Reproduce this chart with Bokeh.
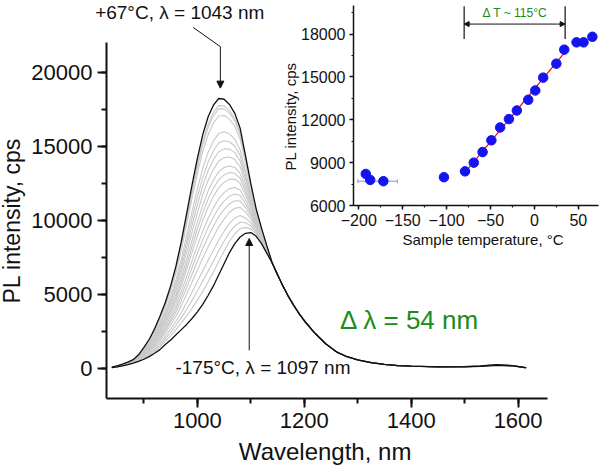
import numpy as np
from bokeh.plotting import figure
from bokeh.models import (Range1d, SingleIntervalTicker, Label, Arrow, NormalHead,
                          Whisker, ColumnDataSource, TeeHead, Title)
from bokeh.embed import file_html
from bokeh.resources import INLINE

FONT = "Liberation Sans"

# ---------------- main panel data ----------------
wavelength_nm = [840, 850, 860, 870, 880, 890, 900, 910, 920, 930, 940, 950, 960, 970, 980, 990,
                 1000, 1010, 1020, 1030, 1040, 1050, 1060, 1070, 1080, 1090, 1100, 1110, 1120,
                 1130, 1140, 1150, 1160, 1170, 1180, 1190, 1200, 1220, 1240, 1260, 1280, 1300,
                 1325, 1350, 1375, 1400, 1450, 1500, 1530, 1560, 1590, 1615]
pl_hot_67C = [120, 200, 320, 450, 620, 950, 1450, 2000, 2700, 3550, 4480, 5600, 6950, 8600, 10500,
              12400, 14200, 15800, 17000, 17800, 18250, 18200, 17850, 17250, 16250, 14400, 12500,
              10800, 9500, 8300, 7150, 6350, 5600, 4900, 4300, 3750, 3250, 2400, 1700, 1150, 820,
              600, 420, 300, 220, 180, 140, 150, 200, 290, 220, 80]
pl_cold_m175C = [80, 130, 200, 280, 380, 500, 650, 830, 1050, 1300, 1650, 1950, 2300, 2650, 3000,
                 3400, 3850, 4350, 4950, 5600, 6350, 7100, 7850, 8450, 8900, 9150, 9200, 8950,
                 8450, 7800, 7150, 6350, 5600, 4900, 4300, 3750, 3250, 2400, 1700, 1150, 820,
                 600, 420, 300, 220, 180, 140, 140, 170, 240, 200, 70]
# peak heights of the intermediate (grey) spectra
grey_peaks = [17770, 17550, 17100, 16000, 15400, 14850, 14300, 13700, 13250, 12800,
              12250, 11800, 11350, 10900, 10350, 9900, 9550]

# ---------------- inset data ----------------
temp_C = [-192, -187, -172, -103, -79, -69, -59, -49, -39, -29, -20, -7, 1, 10, 25, 34, 48, 56, 66]
pl_int = [8210, 7790, 7700, 7980, 8390, 9000, 9740, 10560, 11460, 12050, 12650, 13400, 14050,
          14950, 15930, 16910, 17420, 17420, 17810]
err_temp_lo = [-201]
err_temp_hi = [-156]
err_pl = [7700]
fit_lo, fit_hi = -80, 35          # linear range (Delta T ~ 115 C)

# ---------------- main figure ----------------
W, H = 600, 468
FL, FR, FT, FB = 106, 53, 0, 70          # borders around the main frame (px)
X0, X1, Y0, Y1 = 830, 1655, -2000, 24865
p = figure(width=W, height=H, x_range=Range1d(X0, X1), y_range=Range1d(Y0, Y1),
           output_backend="svg", toolbar_location=None,
           min_border_left=FL, min_border_right=FR, min_border_top=FT, min_border_bottom=FB)
p.outline_line_color = None
p.grid.visible = False
p.background_fill_color = None
p.border_fill_color = None

wl = np.array(wavelength_nm, float)
hot = np.array(pl_hot_67C, float)
cold = np.array(pl_cold_m175C, float)

for pk in grey_peaks:
    lo, hi = 0.0, 1.0
    for _ in range(40):
        mid = 0.5 * (lo + hi)
        if (cold + mid * (hot - cold)).max() < pk:
            lo = mid
        else:
            hi = mid
    w = 0.5 * (lo + hi)
    p.line(wl, cold + w * (hot - cold), line_color="#c8c8c8", line_width=1.1)

p.line(wl, cold, line_color="#111111", line_width=1.3)
p.line(wl, hot, line_color="#111111", line_width=1.3)

for ax, step in ((p.xaxis[0], 200), (p.yaxis[0], 5000)):
    ax.ticker = SingleIntervalTicker(interval=step, num_minor_ticks=2)
    ax.axis_line_width = 2
    ax.major_tick_line_width = 2
    ax.minor_tick_line_width = 2
    ax.major_tick_in = 0
    ax.major_tick_out = 9
    ax.minor_tick_in = 0
    ax.minor_tick_out = 5
    ax.major_label_text_font = FONT
    ax.major_label_text_font_size = "22px"
    ax.major_label_text_color = "#111111"
    ax.axis_line_color = "#111111"
    ax.major_tick_line_color = "#111111"
    ax.minor_tick_line_color = "#111111"
    ax.major_label_standoff = 5
p.xaxis.bounds = (X0, X1)
p.yaxis.bounds = (Y0, 22000)

def lab(fig, x, y, text, size, color="#111111", align="left", angle=0.0):
    fig.add_layout(Label(x=x, y=y, text=text, text_font=FONT, text_font_size=size,
                         text_color=color, text_align=align, text_baseline="middle",
                         angle=angle))

lab(p, 959, 60, "-175°C, λ = 1097 nm", "19px")
lab(p, 1267, 3270, "Δ λ = 54 nm", "26px", color="#1a8c1a")

p.add_layout(Arrow(end=None, x_start=992, y_start=23050, x_end=1043, y_end=21750,
                   line_color="#111111", line_width=1))
p.add_layout(Arrow(end=NormalHead(size=7, fill_color="#111111", line_color="#111111"),
                   x_start=1043, y_start=21750, x_end=1043, y_end=18950,
                   line_color="#111111", line_width=1))
p.add_layout(Arrow(end=NormalHead(size=7, fill_color="#111111", line_color="#111111"),
                   x_start=1097, y_start=1250, x_end=1097, y_end=8800,
                   line_color="#111111", line_width=1))

# ------- transparent overlay in the same data coordinates, for texts outside the frame -------
sx = (X1 - X0) / (W - FL - FR)
sy = (Y1 - Y0) / (H - FT - FB)
o = figure(width=W, height=H, output_backend="svg", toolbar_location=None, title=None,
           x_range=Range1d(X0 - FL * sx, X1 + FR * sx), y_range=Range1d(Y0 - FB * sy, Y1 + FT * sy),
           x_axis_type=None, y_axis_type=None, min_border=0)
o.outline_line_color = None
o.grid.visible = False
o.background_fill_alpha = 0
o.border_fill_alpha = 0
o.styles = {"position": "absolute", "left": "0px", "top": "0px"}
lab(o, 967, 24080, "+67°C, λ = 1043 nm", "19px", align="center")
lab(o, 1239, -5610, "Wavelength, nm", "24px", align="center")
lab(o, 654, 10000, "PL intensity, cps", "23px", align="center", angle=np.pi / 2)

# ---------------- inset ----------------
q = figure(width=325, height=255, x_range=Range1d(-206, 73), y_range=Range1d(6000, 20000),
           output_backend="svg", toolbar_location=None,
           min_border_left=78, min_border_right=2, min_border_top=5, min_border_bottom=50)
q.outline_line_color = None
q.grid.visible = False
q.background_fill_alpha = 0
q.border_fill_alpha = 0
q.styles = {"position": "absolute", "left": "275px", "top": "0px"}

for ax, step in ((q.xaxis[0], 50), (q.yaxis[0], 3000)):
    ax.ticker = SingleIntervalTicker(interval=step, num_minor_ticks=2)
    ax.axis_line_width = 1.5
    ax.major_tick_line_width = 1.5
    ax.minor_tick_line_width = 1.2
    ax.major_tick_in = 0
    ax.major_tick_out = 4
    ax.minor_tick_in = 0
    ax.minor_tick_out = 2
    ax.major_label_text_font = FONT
    ax.major_label_text_font_size = "16px"
    ax.major_label_text_color = "#111111"
    ax.axis_line_color = "#111111"
    ax.major_tick_line_color = "#111111"
    ax.minor_tick_line_color = "#111111"
    ax.major_label_standoff = 4

q.add_layout(Title(text="Sample temperature, °C", align="left", offset=49, standoff=0,
                   text_font=FONT, text_font_size="15px", text_font_style="normal",
                   text_color="#111111"), "below")
q.add_layout(Title(text="PL intensity, cps", align="left", offset=35, standoff=0,
                   text_font=FONT, text_font_size="15px", text_font_style="normal",
                   text_color="#111111"), "left")

esrc = ColumnDataSource(dict(base=err_pl, lower=err_temp_lo, upper=err_temp_hi))
q.add_layout(Whisker(source=esrc, base="base", lower="lower", upper="upper", dimension="width",
                     line_color="#8a8aff", line_width=1,
                     lower_head=TeeHead(size=4, line_color="#8a8aff"),
                     upper_head=TeeHead(size=4, line_color="#8a8aff")))

t = np.array(temp_C, float)
v = np.array(pl_int, float)
m = (t >= fit_lo) & (t <= fit_hi)
k, b = np.polyfit(t[m], v[m], 1)
xf = np.array([t[m].min(), t[m].max() + 2])
q.line(xf, k * xf + b, line_color="#ff0000", line_width=1.2)
q.scatter(temp_C, pl_int, size=9.5, fill_color="#1414f0", line_color="#1414f0")

q.segment(x0=[fit_lo, fit_hi], y0=[17650, 17650], x1=[fit_lo, fit_hi], y1=[19950, 19950],
          line_color="#111111", line_width=1.2)
q.add_layout(Arrow(start=NormalHead(size=5, fill_color="#111111", line_color="#111111"),
                   end=NormalHead(size=5, fill_color="#111111", line_color="#111111"),
                   x_start=fit_lo, y_start=18700, x_end=fit_hi, y_end=18700,
                   line_color="#111111", line_width=1))
lab(q, -22, 19450, "Δ T ~ 115°C", "12px", color="#1a8c1a", align="center")

open("out.html", "w").write(file_html([p, o, q], INLINE))
